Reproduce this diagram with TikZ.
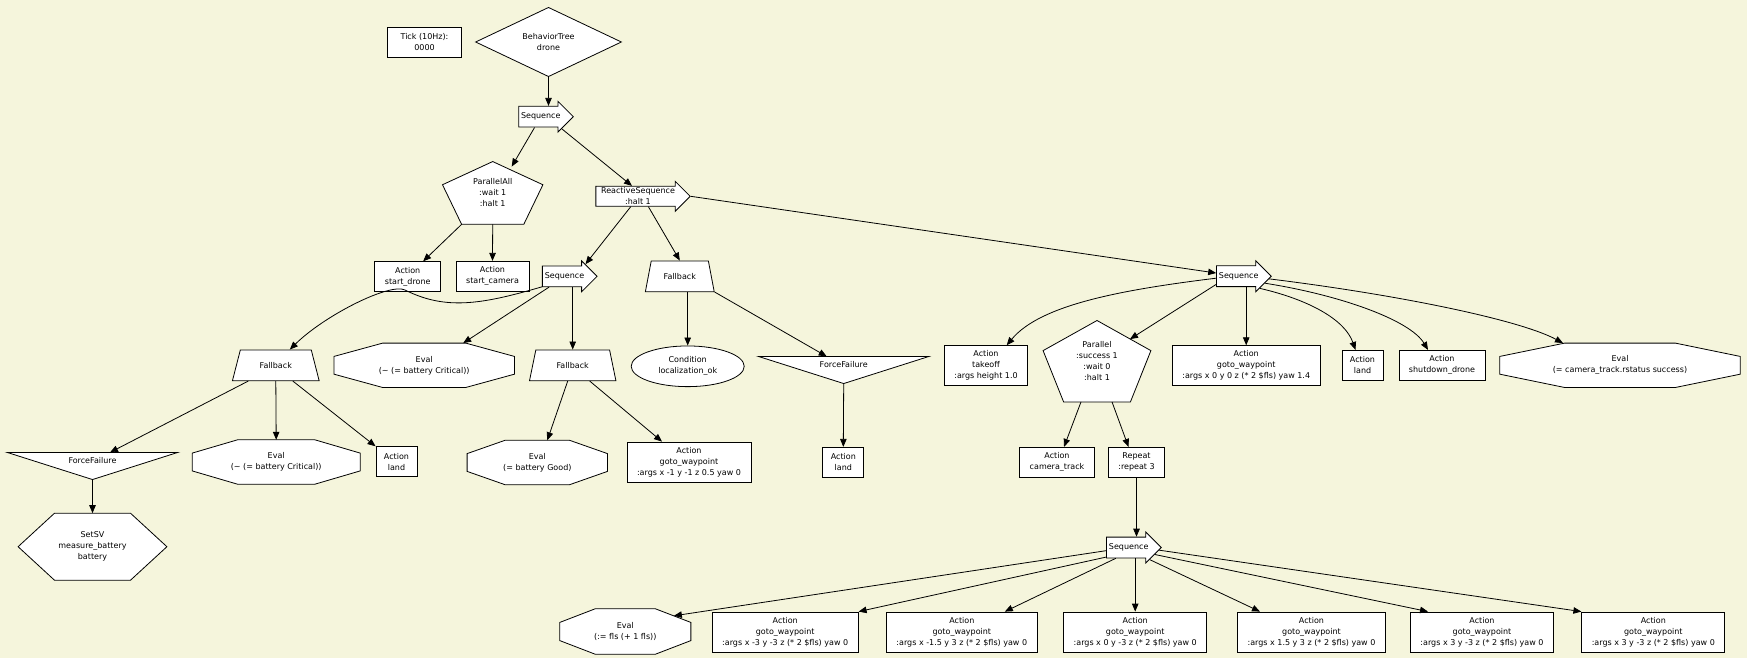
\documentclass[tikz,border=0pt]{standalone}
\usepackage{fontspec}
\setmainfont{DejaVu Sans}
\usetikzlibrary{arrows.meta,shapes.geometric,shapes.arrows,calc}
\definecolor{paper}{RGB}{245,245,220}
\pgfdeclarelayer{background}
\pgfsetlayers{background,main}

\newcommand{\evlshape}[1]{\filldraw[fill=white, line width=0.8pt]
  let \p1=(#1.south west), \p2=(#1.north east), \n1={\x2-\x1}, \n2={\y2-\y1} in
  ({\x1+0.27*\n1},\y2) -- ({\x1+0.73*\n1},\y2) -- (\x2,{\y1+0.7*\n2}) -- (\x2,{\y1+0.3*\n2})
  -- ({\x1+0.73*\n1},\y1) -- ({\x1+0.27*\n1},\y1) -- (\x1,{\y1+0.3*\n2}) -- (\x1,{\y1+0.7*\n2}) -- cycle;}
\newcommand{\pentashape}[1]{\filldraw[fill=white, line width=0.8pt]
  let \p1=(#1.south west), \p2=(#1.north east), \n1={\x2-\x1}, \n2={\y2-\y1} in
  ({\x1+0.5*\n1},\y2) -- (\x2,{\y1+0.63*\n2}) -- ({\x1+0.81*\n1},\y1) -- ({\x1+0.19*\n1},\y1)
  -- (\x1,{\y1+0.63*\n2}) -- cycle;}
\newcommand{\hexashape}[1]{\filldraw[fill=white, line width=0.8pt]
  let \p1=(#1.south west), \p2=(#1.north east), \n1={\x2-\x1}, \n2={\y2-\y1} in
  ({\x1+0.245*\n1},\y2) -- ({\x1+0.755*\n1},\y2) -- (\x2,{\y1+0.5*\n2}) -- ({\x1+0.755*\n1},\y1)
  -- ({\x1+0.245*\n1},\y1) -- (\x1,{\y1+0.5*\n2}) -- cycle;}
\newcommand{\trishape}[1]{\filldraw[fill=white, line width=0.8pt]
  (#1.north west) -- (#1.north east) -- (#1.south) -- cycle;}

\begin{document}
\begin{tikzpicture}[x=1pt, y=-1pt,
    every node/.style={font=\fontsize{8}{11}\selectfont, align=center},
    arr/.style={-{Triangle[length=8pt,width=6.5pt]}, line width=0.8pt},
    box/.style={draw, fill=white, line width=0.8pt, inner xsep=10pt, inner ysep=2pt, minimum height=30pt},
    seq/.style={draw, fill=white, line width=0.8pt, single arrow, single arrow head extend=5pt,
      single arrow tip angle=90, inner xsep=2pt, inner ysep=6pt, text height=6pt, text depth=2pt},
    fb/.style={draw, fill=white, line width=0.8pt, trapezium, trapezium stretches=true,
      trapezium left angle=#1, trapezium right angle=#1, minimum width=87pt, minimum height=30.7pt, inner sep=0pt},
    poly/.style={inner sep=0pt},
    tri/.style={poly, minimum width=170pt, minimum height=26.7pt, text depth=12pt}
  ]
  \useasboundingbox (0,0) rectangle (1747,658);

  \node[box, minimum width=74pt] (tick) at (424.5,42.3) {Tick (10Hz):\\0000};
  \node[draw, fill=white, line width=0.8pt, diamond, minimum width=146pt, minimum height=58pt, inner sep=0pt] (bt) at (548.5,42) {BehaviorTree\\drone};
  \node[seq] (seqa) at (540.8,116.7) {Sequence};
  \node[poly, minimum width=100pt, minimum height=62.3pt] (pall) at (492.7,192.9) {ParallelAll\\:wait 1\\:halt 1};
  \node[seq, inner xsep=4.8pt, inner ysep=1pt, text height=, text depth=] (rseq) at (638,196.3) {ReactiveSequence\\:halt 1};

  \node[box] (sdrone) at (407.7,276.7) {Action\\start\_drone};
  \node[box] (scam) at (492.5,276.3) {Action\\start\_camera};
  \node[seq] (seqb) at (564.5,276.3) {Sequence};
  \node[fb=62, minimum width=69pt] (fbloc) at (679.8,276.3) {Fallback};
  \node[seq] (seqc) at (1238.7,276.2) {Sequence};

  \node[fb=60] (fba) at (275.8,365.3) {Fallback};
  \node[poly, minimum width=180pt, minimum height=44pt] (eva) at (424.2,365.3) {Eval\\(\textasciitilde{} (= battery Critical))};
  \node[fb=66, minimum width=86.7pt] (fbb) at (572.7,365.3) {Fallback};
  \node[draw, fill=white, line width=0.8pt, ellipse, minimum width=113pt, minimum height=40.7pt, inner sep=0pt] (cond) at (687.7,366.3) {Condition\\localization\_ok};
  \node[tri] (ffb) at (843.7,370) {ForceFailure};
  \node[box, minimum height=40pt] (takeoff) at (986,365.7) {Action\\takeoff\\:args height 1.0};
  \node[poly, minimum width=107.4pt, minimum height=81pt] (para) at (1097,361.2) {Parallel\\:success 1\\:wait 0\\:halt 1};
  \node[box, minimum height=40pt] (gwz) at (1246.2,365.7) {Action\\goto\_waypoint\\:args x 0 y 0 z (* 2 \$fls) yaw 1.4};
  \node[box, inner xsep=8pt] (landc) at (1362.5,365.3) {Action\\land};
  \node[box] (shut) at (1442,365.3) {Action\\shutdown\_drone};
  \node[poly, minimum width=240pt, minimum height=44pt] (evcam) at (1620,365.3) {Eval\\(= camera\_track.rstatus success)};

  \node[tri] (ffa) at (92.5,466) {ForceFailure};
  \node[poly, minimum width=167.7pt, minimum height=44pt] (evb) at (276.2,462) {Eval\\(\textasciitilde{} (= battery Critical))};
  \node[box, inner xsep=8pt] (landa) at (396.5,461.7) {Action\\land};
  \node[poly, minimum width=140pt, minimum height=44pt] (evgood) at (537.3,462.5) {Eval\\(= battery Good)};
  \node[box, minimum height=40pt] (gwm) at (689,462) {Action\\goto\_waypoint\\:args x -1 y -1 z 0.5 yaw 0};
  \node[box, inner xsep=8pt] (landb) at (843.3,462.3) {Action\\land};
  \node[box] (camtr) at (1057,462.3) {Action\\camera\_track};
  \node[box] (rep) at (1136.5,462.3) {Repeat\\:repeat 3};

  \node[poly, minimum width=148.4pt, minimum height=66.7pt] (setsv) at (92.5,546.7) {SetSV\\measure\_battery\\battery};
  \node[seq] (seqd) at (1128.7,547.5) {Sequence};

  \node[poly, minimum width=130.7pt, minimum height=45pt] (evfls) at (625.3,631.5) {Eval\\(:= fls (+ 1 fls))};
  \node[box, minimum height=40pt] (gwa) at (785.2,632) {Action\\goto\_waypoint\\:args x -3 y -3 z (* 2 \$fls) yaw 0};
  \node[box, minimum height=40pt] (gwb) at (961.8,632) {Action\\goto\_waypoint\\:args x -1.5 y 3 z (* 2 \$fls) yaw 0};
  \node[box, minimum height=40pt] (gwc) at (1135.2,632) {Action\\goto\_waypoint\\:args x 0 y -3 z (* 2 \$fls) yaw 0};
  \node[box, minimum height=40pt] (gwd) at (1311.5,632) {Action\\goto\_waypoint\\:args x 1.5 y 3 z (* 2 \$fls) yaw 0};
  \node[box, minimum height=40pt] (gwe) at (1482,632) {Action\\goto\_waypoint\\:args x 3 y -3 z (* 2 \$fls) yaw 0};
  \node[box, minimum height=40pt] (gwf) at (1653.3,632) {Action\\goto\_waypoint\\:args x 3 y -3 z (* 2 \$fls) yaw 0};

  \begin{pgfonlayer}{background}
    \fill[paper] (0,0) rectangle (1747,658);
    \evlshape{eva} \evlshape{evb} \evlshape{evgood} \evlshape{evcam} \evlshape{evfls}
    \pentashape{pall} \pentashape{para}
    \hexashape{setsv}
    \trishape{ffa} \trishape{ffb}
  \end{pgfonlayer}

  \draw[arr] (bt.south) -- (bt.south |- seqa.90);
  \draw[arr] (seqa.-120) -- ([shift={(19pt,-5pt)}]pall.north);
  \draw[arr] (seqa.-30) -- (rseq.120);
  \draw[arr] ([xshift=-31pt]pall.south) -- (sdrone.45);
  \draw[arr] (pall.south) -- (scam.north);
  \draw[arr] (rseq.-125) -- (seqb.30);
  \draw[arr] (rseq.-45) -- (fbloc.north);
  \draw[arr] (rseq.tip) -- (seqc.172);
  \draw[arr] (seqb.-155) .. controls (480,305) and (445,310) .. (405,290)
    .. controls (390,282.5) and (325,315) .. ([xshift=14pt]fba.north);
  \draw[arr] (seqb.-145) -- ([xshift=39pt]eva.north);
  \draw[arr] (fbb.north |- seqb.-90) -- (fbb.north);
  \draw[arr] ([xshift=-5pt]fbb.south) -- ([xshift=10pt]evgood.north);
  \draw[arr] ([xshift=17pt]fbb.south) -- ([xshift=-27pt]gwm.north);
  \draw[arr] (cond.north |- fbloc.south) -- (cond.north);
  \draw[arr] (fbloc.bottom right corner) -- ([xshift=-17pt]ffb.north);
  \draw[arr] (ffb.south) -- (landb.north);
  \draw[arr] ([xshift=-27.5pt]fba.south) -- ([xshift=17.5pt]ffa.north);
  \draw[arr] (fba.south) -- (evb.north);
  \draw[arr] ([xshift=17pt]fba.south) -- (landa.north west);
  \draw[arr] (ffa.south) -- (setsv.north);
  \draw[arr] (seqc.185) .. controls (1120,290) and (1040,305) .. ([xshift=20.7pt]takeoff.north);
  \draw[arr] (seqc.-160) -- ([shift={(33pt,-18.6pt)}]para.north);
  \draw[arr] (gwz.north |- seqc.-90) -- (gwz.north);
  \draw[arr] (seqc.-30) .. controls (1310,300) and (1345,320) .. ([xshift=-7pt]landc.north);
  \draw[arr] (seqc.-15) .. controls (1340,295) and (1410,320) .. ([xshift=-14pt]shut.north);
  \draw[arr] (seqc.-5) .. controls (1400,295) and (1520,320) .. ([xshift=-57pt]evcam.north);
  \draw[arr] ([xshift=-16pt]para.south) -- ([xshift=7pt]camtr.north);
  \draw[arr] ([xshift=15pt]para.south) -- ([xshift=-8pt]rep.north);
  \draw[arr] (rep.south) -- (rep.south |- seqd.90);
  \draw[arr] (seqd.-172) -- ([shift={(-17pt,-7pt)}]evfls.north east);
  \draw[arr] (seqd.-157) -- (gwa.north east);
  \draw[arr] (seqd.-140) -- ([xshift=43pt]gwb.north);
  \draw[arr] (gwc.north |- seqd.-90) -- (gwc.north);
  \draw[arr] (seqd.-30) -- ([xshift=-51.5pt]gwd.north);
  \draw[arr] (seqd.-15) -- ([xshift=-54pt]gwe.north);
  \draw[arr] (seqd.-5) -- (gwf.north west);
\end{tikzpicture}
\end{document}
